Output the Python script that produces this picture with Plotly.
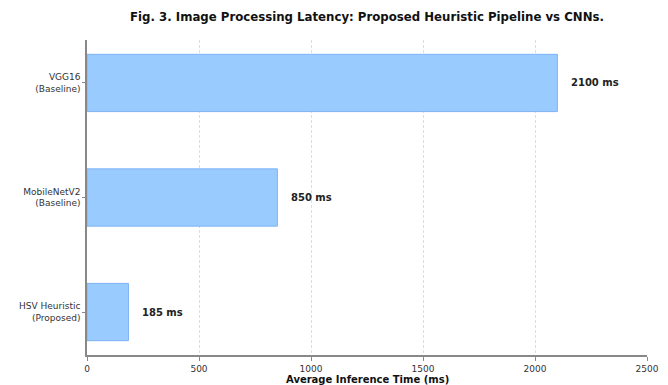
import plotly.graph_objects as go

models = ["HSV Heuristic<br>(Proposed)", "MobileNetV2<br>(Baseline)", "VGG16<br>(Baseline)"]
latency_ms = [185, 850, 2100]
value_labels = ["185 ms", "850 ms", "2100 ms"]
x_ticks = [0, 500, 1000, 1500, 2000, 2500]

FONT = "DejaVu Sans"
W, H = 668, 385
L, R, T, B = 87, 21, 40, 30
PLOT_H = H - T - B

fig = go.Figure()
fig.add_trace(go.Bar(
    y=list(range(len(models))),
    x=latency_ms,
    orientation="h",
    width=0.5,
    marker=dict(color="#99cbff", line=dict(color="#7db3f5", width=1)),
    showlegend=False,
    hoverinfo="skip",
))

for i, (v, lab) in enumerate(zip(latency_ms, value_labels)):
    fig.add_annotation(x=v + 50, y=i, text="<b>" + lab + "</b>", showarrow=False,
                       xanchor="left", yanchor="middle",
                       font=dict(family=FONT, size=10, color="#222222"))

# x-axis title
fig.add_annotation(x=0.5, xref="paper", y=-(379 - (H - B)) / PLOT_H, yref="paper",
                   text="<b>Average Inference Time (ms)</b>", showarrow=False,
                   xanchor="center", yanchor="middle",
                   font=dict(family=FONT, size=10, color="#111111"))

fig.update_layout(
    width=W, height=H,
    margin=dict(l=L, r=R, t=T, b=B),
    plot_bgcolor="white", paper_bgcolor="white",
    title=dict(text="<b>Fig. 3. Image Processing Latency: Proposed Heuristic Pipeline vs CNNs.</b>",
               x=(L + W - R) / 2 / W, xanchor="center", y=1 - 17 / H, yanchor="middle",
               font=dict(family=FONT, size=11.75, color="#111111")),
    font=dict(family=FONT, color="#333333"),
)

fig.update_xaxes(
    range=[0, 2500], tickvals=x_ticks, ticktext=[str(t) for t in x_ticks],
    showgrid=True, gridcolor="#dedede", griddash="3px,2px", gridwidth=1,
    zeroline=False, showline=True, linecolor="#888888", linewidth=1.5,
    ticks="outside", ticklen=4, tickcolor="#888888",
    tickfont=dict(family=FONT, size=9, color="#333333"),
    automargin=False,
)
fig.update_yaxes(
    range=[-0.375, 2.375], tickvals=list(range(len(models))), ticktext=models,
    showgrid=False, zeroline=False, showline=True, linecolor="#888888", linewidth=1.5,
    ticks="outside", ticklen=3, tickcolor="#888888",
    tickfont=dict(family=FONT, size=9, color="#333333"),
    automargin=False,
)

fig.write_html("out.html", config={"displayModeBar": False},
               post_script="document.body.style.margin='0';document.body.style.overflow='hidden';")
